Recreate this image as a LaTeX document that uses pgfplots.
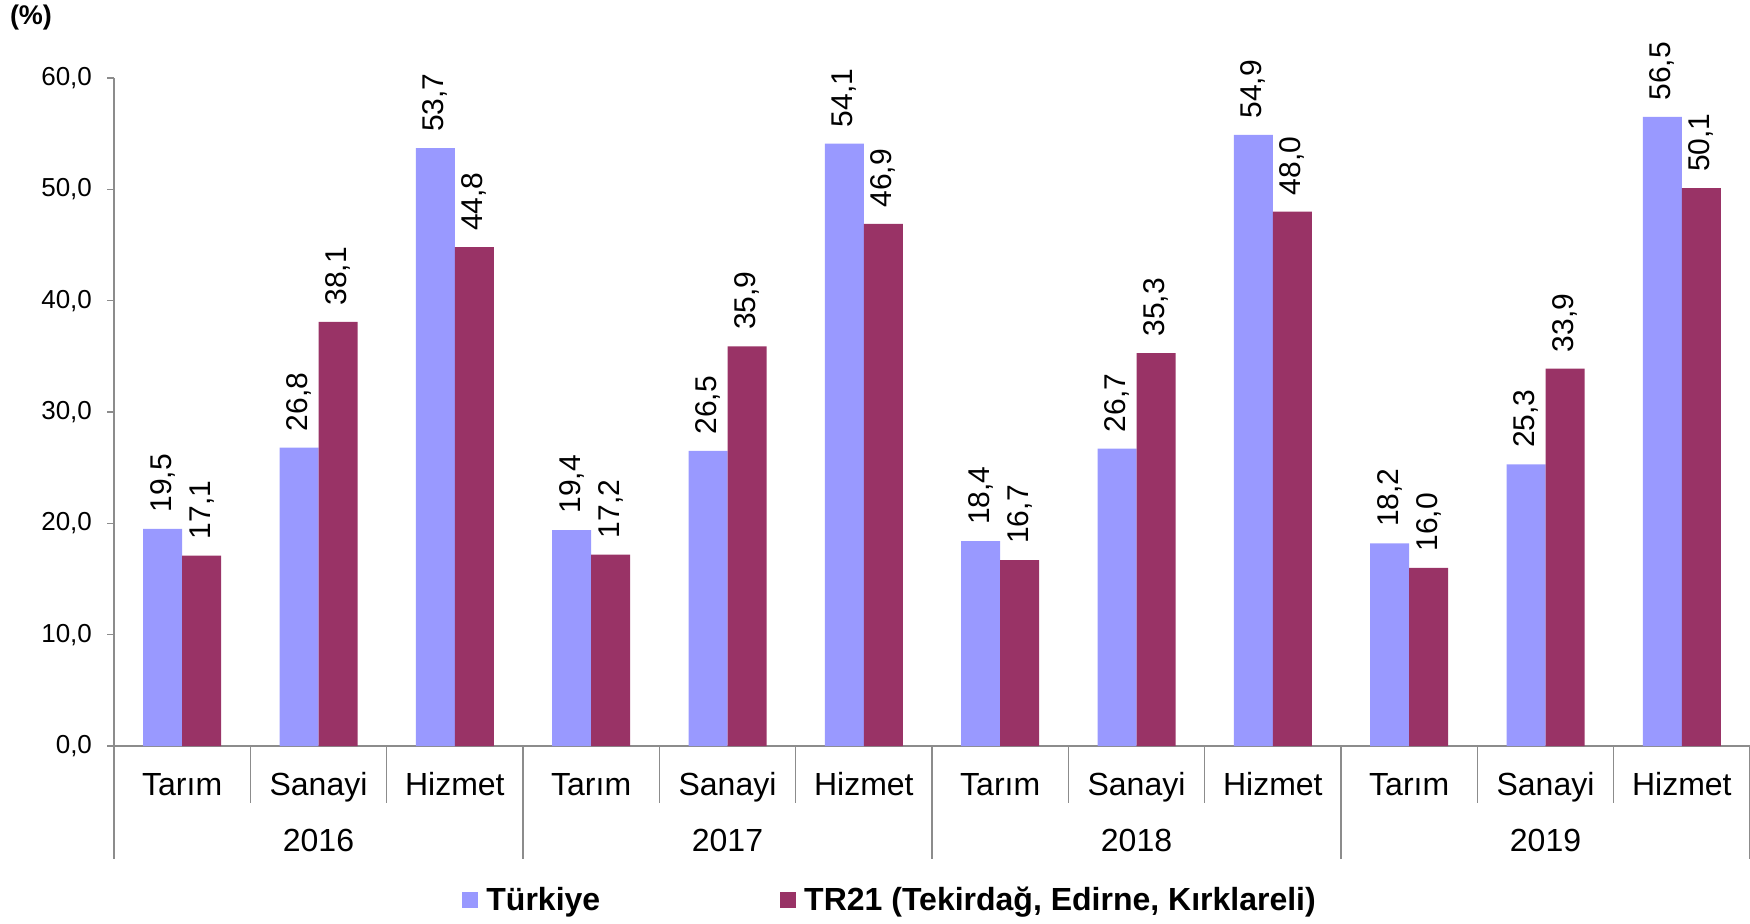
\documentclass[border=0pt]{standalone}
\usepackage{fontspec}
\setmainfont{Liberation Sans}
\usepackage{pgfplots}
\pgfplotsset{compat=1.18}
\definecolor{turk}{HTML}{9999FF}
\definecolor{trc}{HTML}{993366}
\definecolor{axgray}{HTML}{8C8C8C}
\begin{document}
\begin{tikzpicture}
\useasboundingbox (0,0) rectangle (875pt,461.5pt);
\node[font=\fontsize{13.5}{16}\selectfont\bfseries] at (15.5pt,452.5pt) {(\%)};
\begin{axis}[
  at={(57pt,88.5pt)}, anchor=south west,
  scale only axis, width=818pt, height=334pt,
  ybar, bar width=19.5pt, ybar=0pt,
  xmin=-0.5, xmax=11.5, ymin=0, ymax=60,
  axis x line*=bottom, axis y line*=left,
  axis line style={axgray, line width=0.8pt},
  clip=false,
  xtick={0,...,11},
  xticklabels={Tarım,Sanayi,Hizmet,Tarım,Sanayi,Hizmet,Tarım,Sanayi,Hizmet,Tarım,Sanayi,Hizmet},
  x tick style={draw=none},
  xticklabel style={font=\fontsize{16}{19}\selectfont, anchor=base, yshift=-21pt},
  ytick={0,10,...,60},
  tick align=outside, major tick length=3.5pt,
  y tick style={axgray, line width=0.8pt},
  yticklabel style={font=\fontsize{13}{15}\selectfont, xshift=-4pt},
  /pgf/number format/.cd, fixed, fixed zerofill, precision=1, use comma, assume math mode=true,
  /pgfplots/.cd,
  nodes near coords,
  nodes near coords style={rotate=90, anchor=west, text=black, font=\fontsize{15}{18}\selectfont, inner xsep=8pt},
  legend columns=2,
  legend image code/.code={\fill[#1] (0pt,-4pt) rectangle (8pt,4pt); \path (10pt,0pt);},
  legend style={draw=none, at={(0.475,-0.2305)}, anchor=center,
    font=\fontsize{16}{19}\selectfont\bfseries,
    /tikz/every even column/.append style={column sep=88pt}},
]
\addplot[fill=turk, draw=none] coordinates {
 (0,19.5) (1,26.8) (2,53.7) (3,19.4) (4,26.5) (5,54.1)
 (6,18.4) (7,26.7) (8,54.9) (9,18.2) (10,25.3) (11,56.5)};
\addlegendentry{Türkiye}
\addplot[fill=trc, draw=none] coordinates {
 (0,17.1) (1,38.1) (2,44.8) (3,17.2) (4,35.9) (5,46.9)
 (6,16.7) (7,35.3) (8,48.0) (9,16.0) (10,33.9) (11,50.1)};
\addlegendentry{TR21 (Tekirdağ, Edirne, Kırklareli)}
\pgfplotsinvokeforeach{0.5,1.5,3.5,4.5,6.5,7.5,9.5,10.5}{
  \draw[axgray, line width=0.8pt] (axis cs:#1,0) -- ++(0pt,-28.5pt);
}
\pgfplotsinvokeforeach{-0.5,2.5,5.5,8.5,11.5}{
  \draw[axgray, line width=0.8pt] (axis cs:#1,0) -- ++(0pt,-56.5pt);
}
\node[font=\fontsize{16}{19}\selectfont, anchor=base] at ([yshift=-52.7pt]axis cs:1,0) {2016};
\node[font=\fontsize{16}{19}\selectfont, anchor=base] at ([yshift=-52.7pt]axis cs:4,0) {2017};
\node[font=\fontsize{16}{19}\selectfont, anchor=base] at ([yshift=-52.7pt]axis cs:7,0) {2018};
\node[font=\fontsize{16}{19}\selectfont, anchor=base] at ([yshift=-52.7pt]axis cs:10,0) {2019};
\end{axis}
\end{tikzpicture}
\end{document}
